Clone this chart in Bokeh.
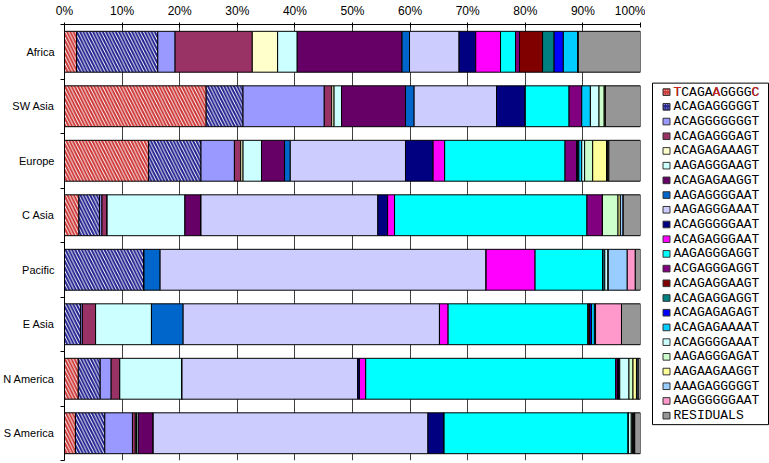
from bokeh.plotting import figure
from bokeh.models import (ColumnDataSource, Range1d, LinearAxis, FixedTicker)
from bokeh.layouts import row
from bokeh.embed import file_html
from bokeh.resources import INLINE
from bokeh.core.properties import value

# ---------------- data ----------------
regions = ["Africa", "SW Asia", "Europe", "C Asia", "Pacific", "E Asia",
           "N America", "S America"]

haplotypes = ["TCAGAAGGGGC", "ACAGAGGGGGT", "ACAGGGGGGGT", "ACAGAGGGAGT",
              "ACAGAGAAAGT", "AAGAGGGAAGT", "ACAGAGAAGGT", "AAGAGGGGAAT",
              "AAGAGGGAAAT", "ACAGGGGGAAT", "ACAGAGGGAAT", "AAGAGGGAGGT",
              "ACGAGGGAGGT", "ACAGAGGAAGT", "ACAGAGGAGGT", "ACAGAGAGAGT",
              "ACAGAGAAAAT", "ACAGGGGAAAT", "AAGAGGGAGAT", "AAGAAGAAGGT",
              "AAAGAGGGGGT", "AAGGGGGGAAT", "RESIDUALS"]

# percentages per region (Africa ... S America)
s01 = [2.1, 24.6, 14.6, 2.5, 0.0, 0.0, 2.4, 1.9]
s02 = [14.1, 6.4, 9.1, 3.6, 13.8, 2.8, 3.8, 5.1]
s03 = [3.0, 14.1, 5.8, 0.4, 0.0, 0.3, 1.9, 4.8]
s04 = [13.4, 1.3, 1.1, 0.9, 0.0, 2.3, 1.5, 0.5]
s05 = [4.4, 0.4, 0.4, 0.0, 0.0, 0.0, 0.0, 0.2]
s06 = [3.4, 1.3, 3.2, 13.5, 0.0, 9.7, 10.8, 0.3]
s07 = [18.2, 11.1, 4.0, 2.8, 0.0, 0.0, 0.0, 2.6]
s08 = [1.3, 1.5, 1.0, 0.0, 2.8, 5.5, 0.0, 0.0]
s09 = [8.6, 14.3, 20.0, 30.7, 56.6, 44.5, 30.5, 47.7]
s10 = [2.9, 5.0, 4.8, 1.7, 0.0, 0.0, 0.3, 2.8]
s11 = [4.3, 0.0, 2.0, 1.2, 8.5, 1.5, 1.1, 0.0]
s12 = [2.6, 7.6, 20.9, 33.4, 11.8, 24.3, 43.4, 32.0]
s13 = [0.7, 2.2, 2.0, 2.7, 0.0, 0.0, 0.3, 0.0]
s14 = [4.0, 0.0, 0.0, 0.0, 0.0, 0.3, 0.2, 0.0]
s15 = [2.0, 0.0, 0.2, 0.0, 0.0, 0.0, 0.0, 0.0]
s16 = [1.6, 0.0, 0.2, 0.0, 0.0, 0.3, 0.2, 0.0]
s17 = [2.6, 1.5, 0.5, 0.0, 0.3, 0.5, 0.0, 0.0]
s18 = [0.0, 1.5, 0.5, 0.0, 0.6, 0.2, 1.6, 0.5]
s19 = [0.0, 0.9, 1.4, 2.7, 0.0, 0.0, 0.7, 0.2]
s20 = [0.0, 0.2, 2.4, 0.4, 0.0, 0.0, 0.6, 0.2]
s21 = [0.0, 0.0, 0.2, 0.5, 3.3, 0.0, 0.3, 0.2]
s22 = [0.0, 0.0, 0.2, 0.0, 1.4, 4.5, 0.0, 0.0]
residuals = [10.8, 6.1, 5.5, 3.0, 0.9, 3.3, 0.4, 1.0]

series = [s01, s02, s03, s04, s05, s06, s07, s08, s09, s10, s11, s12, s13,
          s14, s15, s16, s17, s18, s19, s20, s21, s22, residuals]

fill_colors = ["#ffffff", "#ffffff", "#9999ff", "#993366", "#ffffcc",
               "#ccffff", "#660066", "#0066cc", "#ccccff", "#000080",
               "#ff00ff", "#00ffff", "#800080", "#800000", "#008080",
               "#0000ff", "#00ccff", "#ccffff", "#ccffcc", "#ffff99",
               "#99ccff", "#ff99cc", "#969696"]
hatch_patterns = ["\\", "\\"] + [" "] * 21
hatch_colors = ["#cc3333", "#1f1f8f"] + ["#000000"] * 21

x_ticks = [0, 10, 20, 30, 40, 50, 60, 70, 80, 90, 100]
x_tick_labels = ["0%", "10%", "20%", "30%", "40%", "50%", "60%", "70%",
                 "80%", "90%", "100%"]

# ---------------- main chart ----------------
n = len(regions)
row_pos = [n - i - 0.5 for i in range(n)]      # Africa on top
keys = ["h%02d" % i for i in range(len(series))]
data = {"region": regions, "ypos": row_pos}
for k, vals in zip(keys, series):
    data[k] = vals
source = ColumnDataSource(data)

p = figure(width=645, height=461,
           x_range=Range1d(0, 100), y_range=Range1d(0, n),
           x_axis_location="above", y_axis_location=None,
           output_backend="svg", toolbar_location=None,
           min_border_left=62, min_border_right=5,
           min_border_top=22, min_border_bottom=1)
p.outline_line_color = None
p.background_fill_color = "white"

p.hbar_stack(keys, y="ypos", height=0.75, source=source,
             fill_color=fill_colors, line_color="black", line_width=1,
             hatch_pattern=hatch_patterns, hatch_color=hatch_colors,
             hatch_scale=6.5, hatch_weight=2)

# top percentage axis
xa = p.xaxis[0]
xa.ticker = FixedTicker(ticks=x_ticks)
xa.major_label_overrides = {t: l for t, l in zip(x_ticks, x_tick_labels)}
xa.major_label_text_font = "Liberation Sans"
xa.major_label_text_font_size = "12px"
xa.major_label_text_color = "black"
xa.axis_line_color = "black"
xa.major_tick_line_color = "black"
xa.major_tick_in = 3
xa.major_tick_out = 2
xa.minor_tick_line_color = None
xa.major_label_standoff = 5

p.xgrid.ticker = FixedTicker(ticks=x_ticks)
p.xgrid.grid_line_color = "#404040"
p.xgrid.grid_line_width = 1
p.ygrid.grid_line_color = None

# left category axis: labels at row centres, small ticks at row boundaries
bounds = [float(i) for i in range(n + 1)]
ya = LinearAxis(ticker=FixedTicker(ticks=row_pos, minor_ticks=bounds),
                major_label_overrides={c: r for c, r in zip(row_pos, regions)})
ya.major_tick_line_color = None
ya.major_tick_in = 0
ya.major_tick_out = 0
ya.minor_tick_line_color = "black"
ya.minor_tick_in = 0
ya.minor_tick_out = 4
ya.axis_line_color = "black"
ya.major_label_text_font = "Liberation Sans"
ya.major_label_text_font_size = "11px"
ya.major_label_text_color = "black"
ya.major_label_standoff = 6
p.add_layout(ya, "left")

# ---------------- legend panel ----------------
LW, LH = 124, 461
leg = figure(width=LW, height=LH, x_range=Range1d(0, LW),
             y_range=Range1d(LH, 0), output_backend="svg",
             toolbar_location=None, min_border=0,
             x_axis_location=None, y_axis_location=None)
leg.outline_line_color = None
leg.grid.grid_line_color = None

first_y, step = 71.5, 15.55
ly = [first_y + step * i for i in range(len(haplotypes))]
leg.quad(left=[7], right=[123], top=[ly[0] - 9.5], bottom=[ly[-1] + 9.5],
         fill_color="white", line_color="black", line_width=1)

lsrc = ColumnDataSource(dict(y=ly, name=haplotypes, fc=fill_colors,
                             hp=hatch_patterns, hc=hatch_colors))
leg.rect(x=21, y="y", width=7, height=7, source=lsrc, fill_color="fc",
         hatch_pattern="hp", hatch_color="hc", hatch_scale=3.5,
         hatch_weight=1.5, line_color="#333333", line_width=1)
leg.text(x=28, y="y", text="name", source=lsrc,
         text_font=value("Liberation Mono"), text_font_size="13px",
         text_baseline="middle", text_align="left", text_color="black")
# red letters of the first entry
nb = "\u00a0"
leg.text(x=[28], y=[ly[0]], text=["T" + nb * 4 + "A" + nb * 4 + "C"],
         text_font=value("Liberation Mono"), text_font_size="13px",
         text_baseline="middle", text_align="left", text_color="#cc2222")

layout = row(p, leg)

open("out.html", "w").write(file_html(layout, INLINE))
